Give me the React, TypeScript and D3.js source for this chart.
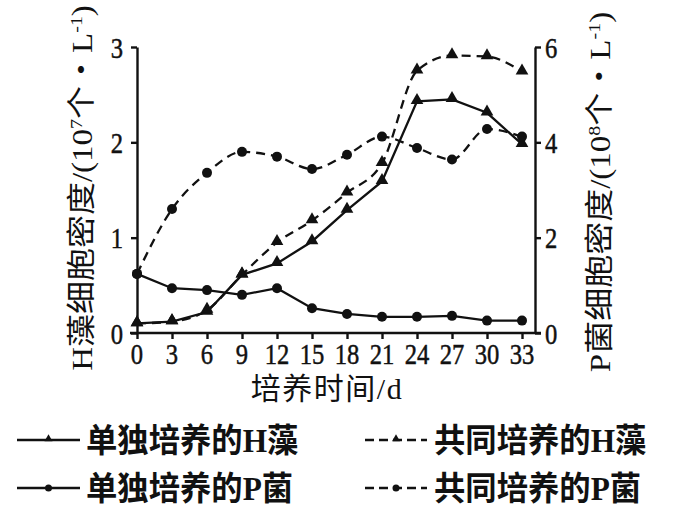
import { useEffect, useRef } from 'react';
import * as d3 from 'd3';

// culture time (d)
const days = [0, 3, 6, 9, 12, 15, 18, 21, 24, 27, 30, 33];
// H algae density, left axis (10^7 / L)
const hAlone = [0.10, 0.12, 0.22, 0.61, 0.73, 0.96, 1.29, 1.59, 2.43, 2.45, 2.31, 1.98];
const hCo = [0.10, 0.12, 0.24, 0.61, 0.95, 1.18, 1.47, 1.78, 2.75, 2.91, 2.90, 2.74];
// P bacteria density, right axis (10^8 / L)
const pAlone = [1.24, 0.94, 0.90, 0.80, 0.94, 0.52, 0.40, 0.34, 0.34, 0.36, 0.26, 0.26];
const pCo = [1.24, 2.60, 3.36, 3.80, 3.70, 3.44, 3.74, 4.12, 3.88, 3.64, 4.28, 4.12];

const leftTicks = [0, 1, 2, 3];
const rightTicks = [0, 2, 4, 6];

const legendItems = [
  { label: '单独培养的H藻', dashed: false, marker: 'tri' },
  { label: '共同培养的H藻', dashed: true, marker: 'tri' },
  { label: '单独培养的P菌', dashed: false, marker: 'dot' },
  { label: '共同培养的P菌', dashed: true, marker: 'dot' },
];

const FONT = "'Liberation Serif', 'Noto Sans CJK SC', serif";

export default function App() {
  const ref = useRef<SVGSVGElement>(null);

  useEffect(() => {
    const svg = d3.select(ref.current);
    svg.selectAll('*').remove();

    const x = d3.scaleLinear().domain([0, 33]).range([137, 522]);
    const yL = d3.scaleLinear().domain([0, 3]).range([333, 47]);
    const yR = d3.scaleLinear().domain([0, 6]).range([333, 47]);
    const axisX = 137, axisR = 535, base = 333;

    const text = (px: number, py: number, s: string, size: number, anchor: string, sx: number, weight = 'normal') =>
      svg.append('text')
        .attr('transform', `translate(${px},${py}) scale(${sx},1)`)
        .attr('text-anchor', anchor).attr('dy', '0.35em')
        .style('font-family', FONT).style('font-size', `${size}px`).style('font-weight', weight)
        .style('fill', '#111').text(s);

    // axes
    const gl = svg.append('g').attr('transform', `translate(${axisX},0)`)
      .call(d3.axisLeft(yL).tickValues(leftTicks).tickSize(6).tickSizeOuter(0).tickFormat(() => ''));
    const gr = svg.append('g').attr('transform', `translate(${axisR},0)`)
      .call(d3.axisRight(yR).tickValues(rightTicks).tickSize(6).tickSizeOuter(0).tickFormat(() => ''));
    const gx = svg.append('g').attr('transform', `translate(0,${base})`)
      .call(d3.axisBottom(x).tickValues(days).tickSize(6).tickSizeOuter(0).tickFormat(() => ''));
    gx.select('.domain').remove();
    svg.append('line').attr('x1', 130).attr('x2', 541).attr('y1', base).attr('y2', base)
      .attr('stroke', '#111').attr('stroke-width', 2.4);
    [gl, gr, gx].forEach(g => {
      g.selectAll('path,line').attr('stroke', '#111').attr('stroke-width', 2.4);
    });

    const num = (px: number, py: number, v: number, anchor: string) =>
      text(px, py, String(v), 30, anchor, 0.82).style('stroke', '#111').style('stroke-width', 0.5);
    leftTicks.forEach(t => num(123, yL(t), t, 'end'));
    rightTicks.forEach(t => num(545, yR(t), t, 'start'));
    days.forEach(d => num(x(d), 353, d, 'middle'));
    text(327, 388, '培养时间/d', 30, 'middle', 1).style('letter-spacing', '1.5px');

    // rotated axis titles
    const rotLabel = (cx: number, cy: number, head: string, exp: string) => {
      const t = svg.append('text')
        .attr('transform', `translate(${cx},${cy}) scale(0.88,1) rotate(-90)`)
        .attr('text-anchor', 'middle').attr('dy', '0.35em')
        .style('font-family', FONT).style('font-size', '33px').style('fill', '#111');
      t.append('tspan').text(head);
      t.append('tspan').attr('dy', -12).style('font-size', '20px').text(exp);
      t.append('tspan').attr('dy', 12).text('个・L');
      t.append('tspan').attr('dy', -12).style('font-size', '20px').text('-1');
      t.append('tspan').attr('dy', 12).text(')');
    };
    rotLabel(82, 188, 'H藻细胞密度/(10', '7');
    rotLabel(600, 192, 'P菌细胞密度/(10', '8');

    // series
    const series = [
      { vals: hAlone, y: yL, dashed: false, marker: 'tri' },
      { vals: hCo, y: yL, dashed: true, marker: 'tri' },
      { vals: pAlone, y: yR, dashed: false, marker: 'dot' },
      { vals: pCo, y: yR, dashed: true, marker: 'dot' },
    ];
    const tri = d3.symbol(d3.symbolTriangle, 70);
    series.forEach(s => {
      const line = d3.line<number>()
        .x((_, i) => x(days[i])).y(v => s.y(v))
        .curve(s.dashed ? d3.curveMonotoneX : d3.curveLinear);
      svg.append('path').attr('d', line(s.vals) as string)
        .attr('fill', 'none').attr('stroke', '#111').attr('stroke-width', 2.3)
        .attr('stroke-dasharray', s.dashed ? '9,6' : null);
      s.vals.forEach((v, i) => {
        if (s.marker === 'tri') {
          svg.append('path').attr('d', tri() as string)
            .attr('transform', `translate(${x(days[i])},${s.y(v) - 1})`).attr('fill', '#111');
        } else {
          svg.append('circle').attr('cx', x(days[i])).attr('cy', s.y(v)).attr('r', 5).attr('fill', '#111');
        }
      });
    });

    // legend
    const smallTri = d3.symbol(d3.symbolTriangle, 28);
    legendItems.forEach((it, i) => {
      const col = i % 2, row = Math.floor(i / 2);
      const lx = col === 0 ? 17 : 365;
      const len = col === 0 ? 63 : 62;
      const ly = row === 0 ? 440 : 488;
      svg.append('line').attr('x1', lx).attr('x2', lx + len).attr('y1', ly).attr('y2', ly)
        .attr('stroke', '#111').attr('stroke-width', 2.6)
        .attr('stroke-dasharray', it.dashed ? '9,5' : null);
      const mx = lx + len / 2;
      if (it.marker === 'tri') {
        svg.append('path').attr('d', smallTri() as string).attr('transform', `translate(${mx},${ly - 1})`).attr('fill', '#111');
      } else {
        svg.append('circle').attr('cx', mx).attr('cy', ly).attr('r', 3.5).attr('fill', '#111');
      }
      text(col === 0 ? 86 : 434, ly, it.label, 33, 'start', 0.95, 'bold');
    });
  }, []);

  return (
    <svg ref={ref} width={677} height={521}
      style={{ position: 'absolute', left: 0, top: 0, background: '#fff' }} />
  );
}
